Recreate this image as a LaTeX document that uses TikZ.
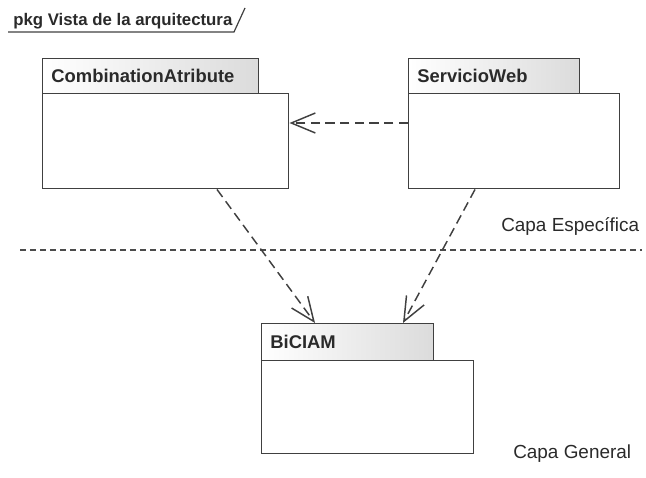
\documentclass[tikz,border=0pt]{standalone}
\usepackage{fontspec}
\setmainfont{Liberation Sans}
\usetikzlibrary{arrows.meta}
\definecolor{edge}{HTML}{404040}
\definecolor{txt}{HTML}{2A2A2A}
\begin{document}
\begin{tikzpicture}[x=0.75pt,y=-0.75pt,
  pkgtab/.style={draw=edge, line width=1.1pt, left color=white, right color=black!14,
    anchor=north west, inner xsep=6.5pt, inner ysep=0pt, align=left,
    font=\bfseries\fontsize{13.8}{16}\selectfont, text=txt},
  pkgbody/.style={draw=edge, line width=1.1pt, fill=white, anchor=north west, inner sep=0pt},
  dep/.style={draw=black!75, line width=1.1pt, dash pattern=on 7pt off 4pt,
    -{Straight Barb[length=18pt,width=15pt,line width=1.1pt]}},
  layer/.style={font=\fontsize{14.2}{16}\selectfont, text=txt, anchor=base west, inner sep=0pt}]
\useasboundingbox (0,0) rectangle (646,478);
% frame tab
\node[anchor=base west, inner sep=0pt, font=\bfseries\fontsize{12.6}{15}\selectfont, text=txt] (frame) at (13,25.5) {pkg Vista de la arquitectura};
\draw[edge, line width=0.9pt] (8,32) -- (234,32) -- (245,8);
% CombinationAtribute
\node[pkgbody, minimum width=184.5pt, minimum height=71.25pt] (cab) at (42,93) {};
\node[pkgtab, text width=162pt-13pt, minimum height=26.25pt] (cat) at (42,58) {CombinationAtribute};
% ServicioWeb
\node[pkgbody, minimum width=158.25pt, minimum height=71.25pt] (swb) at (408,93) {};
\node[pkgtab, text width=128.25pt-13pt, minimum height=26.25pt] (swt) at (408,58) {ServicioWeb};
% BiCIAM
\node[pkgbody, minimum width=159pt, minimum height=69.75pt] (bib) at (261,360) {};
\node[pkgtab, text width=129pt-13pt, minimum height=27.75pt] (bit) at (261,323) {BiCIAM};
% layer separator
\coordinate (sepL) at (20,250);
\coordinate (sepR) at (642,250);
\draw[black!70, line width=1pt, dash pattern=on 4.5pt off 3pt] (sepL) -- (sepR);
\node[layer] (esp) at (501,231) {Capa Específica};
\node[layer] (gen) at (513,458) {Capa General};
% dependencies
\draw[dep] ([yshift=-22.5pt]swb.north west) -- ([yshift=-22.5pt]cab.north east);
\draw[dep] ([xshift=131.25pt]cab.south west) -- ([xshift=40.5pt]bit.north west);
\draw[dep] ([xshift=50.25pt]swb.south west) -- ([xshift=106.5pt]bit.north west);
\end{tikzpicture}
\end{document}
